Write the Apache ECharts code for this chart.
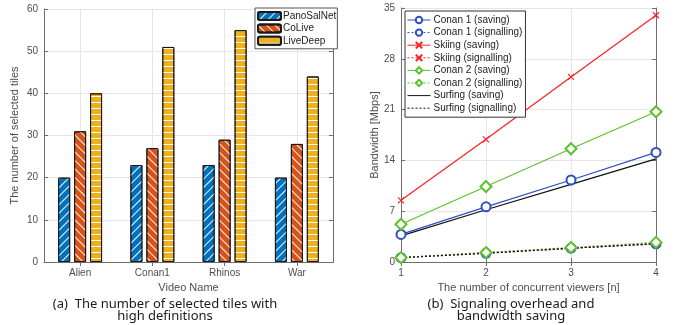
<!DOCTYPE html>
<html>
<head>
<meta charset="utf-8">
<script src="https://cdn.jsdelivr.net/npm/echarts@6/dist/echarts.min.js"></script>
<style>
  html, body { margin: 0; padding: 0; background: #fff; }
  #main { width: 676px; height: 325px; }
</style>
</head>
<body>
<div id="main"></div>
<script>
// (a) selected tiles
const videos = ['Alien', 'Conan1', 'Rhinos', 'War'];
const panoSalNet = [20, 23, 23, 20];
const coLive = [31, 27, 29, 28];
const liveDeep = [40, 51, 55, 44];

// (b) bandwidth
const viewers = [1, 2, 3, 4];
const conan1Saving = [3.8, 7.6, 11.3, 15.1];
const conan1Signal = [0.6, 1.2, 1.9, 2.5];
const skiingSaving = [8.5, 16.9, 25.5, 34.0];
const skiingSignal = [0.6, 1.3, 1.9, 2.6];
const conan2Saving = [5.2, 10.4, 15.6, 20.7];
const conan2Signal = [0.6, 1.3, 2.0, 2.7];
const surfingSaving = [3.6, 7.2, 10.7, 14.2];
const surfingSignal = [0.6, 1.2, 1.9, 2.5];

const font = "'Liberation Sans', Arial, sans-serif";
const axisCol = '#6e6e6e';
const labelCol = '#4d4d4d';
const gridCol = '#e6e6e6';

const xy = (ys) => viewers.map((v, i) => [v, ys[i]]);

function boxAxis(extra) {
    return Object.assign({
        axisLine: { show: true, lineStyle: { color: axisCol, width: 1 } },
        axisTick: { show: true, inside: true, length: 4, lineStyle: { color: axisCol } },
        axisLabel: { show: false },
        splitLine: { show: false }
    }, extra);
}

function barSeries(name, data, color, rotation) {
    return {
        name: name, type: 'bar', data: data,
        xAxisIndex: 0, yAxisIndex: 0,
        barWidth: 12, barGap: '33%',
        itemStyle: {
            color: color, borderColor: '#1a1a1a', borderWidth: 1,
            decal: {
                symbol: 'rect', symbolSize: 1,
                dashArrayX: [1, 0], dashArrayY: [1, 5],
                rotation: rotation, color: 'rgba(255,255,255,0.95)'
            }
        }
    };
}

function lineSeries(name, data, color, symbol, dotted, size) {
    const noMarker = symbol === 'none';
    return {
        name: name, type: 'line', data: xy(data),
        xAxisIndex: 2, yAxisIndex: 2,
        symbol: noMarker ? 'rect' : symbol, symbolSize: noMarker ? 1 : size,
        lineStyle: { color: color, width: 1.2, type: dotted ? [2, 2] : 'solid' },
        itemStyle: noMarker
            ? { color: 'transparent', borderColor: 'transparent', borderWidth: 0 }
            : { color: color, borderColor: color, borderWidth: 1.1 }
    };
}

const cross = 'path://M0,0L10,10M10,0L0,10';

const option = {
    animation: false,
    textStyle: { fontFamily: font },
    grid: [
        { left: 44, top: 9, width: 289, height: 253 },
        { left: 401, top: 8, width: 255, height: 254 }
    ],
    legend: [
        {
            data: ['PanoSalNet', 'CoLive', 'LiveDeep'],
            orient: 'vertical', left: 255, top: 8,
            itemWidth: 23, itemHeight: 8, itemGap: 2.4,
            padding: [3, 1, 3, 2],
            backgroundColor: '#fff', borderColor: '#555', borderWidth: 1,
            textStyle: { fontSize: 10, lineHeight: 8, color: '#222', fontFamily: font, padding: [0, 0, 0, -3] }
        },
        {
            data: ['Conan 1 (saving)', 'Conan 1 (signalling)', 'Skiing (saving)', 'Skiing (signalling)',
                   'Conan 2 (saving)', 'Conan 2 (signalling)', 'Surfing (saving)', 'Surfing (signalling)'],
            orient: 'vertical', left: 405, top: 11,
            itemWidth: 23, itemHeight: 8, itemGap: 2.6,
            padding: [4, 3, 4, 2],
            lineStyle: { width: 1 },
            backgroundColor: '#fff', borderColor: '#333', borderWidth: 1,
            textStyle: { fontSize: 10, lineHeight: 8, color: '#222', fontFamily: font, padding: [0, 0, 0, -2] }
        }
    ],
    xAxis: [
        {
            type: 'category', gridIndex: 0, data: videos,
            name: 'Video Name', nameLocation: 'middle', nameGap: 15,
            nameTextStyle: { color: labelCol, fontSize: 11 },
            axisLine: { lineStyle: { color: axisCol } },
            axisTick: { show: true, inside: true, length: 4, alignWithLabel: true, lineStyle: { color: axisCol } },
            axisLabel: { color: labelCol, fontSize: 10, margin: 6 },
            splitLine: { show: true, alignWithLabel: true, lineStyle: { color: gridCol } }
        },
        boxAxis({ type: 'category', gridIndex: 0, data: videos, position: 'top',
            axisTick: { show: true, inside: true, length: 4, alignWithLabel: true, lineStyle: { color: axisCol } } }),
        {
            type: 'value', gridIndex: 1, min: 1, max: 4, interval: 1,
            name: 'The number of concurrent viewers [n]', nameLocation: 'middle', nameGap: 13,
            nameTextStyle: { color: labelCol, fontSize: 11 },
            axisLine: { lineStyle: { color: axisCol } },
            axisTick: { show: true, inside: true, length: 4, lineStyle: { color: axisCol } },
            axisLabel: { color: labelCol, fontSize: 10, margin: 6 },
            splitLine: { show: true, lineStyle: { color: gridCol } }
        },
        boxAxis({ type: 'value', gridIndex: 1, min: 1, max: 4, interval: 1, position: 'top' })
    ],
    yAxis: [
        {
            type: 'value', gridIndex: 0, min: 0, max: 60, interval: 10,
            name: 'The number of selected tiles', nameLocation: 'middle', nameGap: 24,
            nameTextStyle: { color: labelCol, fontSize: 11 },
            axisLine: { show: true, lineStyle: { color: axisCol } },
            axisTick: { show: true, inside: true, length: 4, lineStyle: { color: axisCol } },
            axisLabel: { color: labelCol, fontSize: 10, margin: 6 },
            splitLine: { show: true, lineStyle: { color: gridCol } }
        },
        boxAxis({ type: 'value', gridIndex: 0, min: 0, max: 60, interval: 10, position: 'right' }),
        {
            type: 'value', gridIndex: 1, min: 0, max: 35, interval: 7,
            name: 'Bandwidth [Mbps]', nameLocation: 'middle', nameGap: 18,
            nameTextStyle: { color: labelCol, fontSize: 11 },
            axisLine: { show: true, lineStyle: { color: axisCol } },
            axisTick: { show: true, inside: true, length: 4, lineStyle: { color: axisCol } },
            axisLabel: { color: labelCol, fontSize: 10, margin: 6 },
            splitLine: { show: true, lineStyle: { color: gridCol } }
        },
        boxAxis({ type: 'value', gridIndex: 1, min: 0, max: 35, interval: 7, position: 'right' })
    ],
    series: [
        barSeries('PanoSalNet', panoSalNet, '#0072BD', -Math.PI / 4),
        barSeries('CoLive', coLive, '#D95319', Math.PI / 4),
        barSeries('LiveDeep', liveDeep, '#EDB120', 0),
        lineSeries('Conan 1 (saving)', conan1Saving, '#2f4fc4', 'emptyCircle', false, 9),
        lineSeries('Conan 1 (signalling)', conan1Signal, '#2f4fc4', 'emptyCircle', true, 9),
        lineSeries('Skiing (saving)', skiingSaving, '#ff1f1f', cross, false, 6),
        lineSeries('Skiing (signalling)', skiingSignal, '#ff1f1f', cross, true, 6),
        lineSeries('Conan 2 (saving)', conan2Saving, '#5cc22e', 'emptyDiamond', false, 11),
        lineSeries('Conan 2 (signalling)', conan2Signal, '#5cc22e', 'emptyDiamond', true, 11),
        lineSeries('Surfing (saving)', surfingSaving, '#111', 'none', false),
        lineSeries('Surfing (signalling)', surfingSignal, '#111', 'none', true)
    ],
    graphic: [
        {
            type: 'text', x: 165, y: 298,
            style: {
                text: '(a)  The number of selected tiles with\nhigh definitions',
                align: 'center', verticalAlign: 'top', fill: '#1a1a1a', fontSize: 13, lineHeight: 12,
                fontFamily: "'Noto Sans', sans-serif"
            }
        },
        {
            type: 'text', x: 511, y: 298,
            style: {
                text: '(b)  Signaling overhead and\nbandwidth saving',
                align: 'center', verticalAlign: 'top', fill: '#1a1a1a', fontSize: 13, lineHeight: 12,
                fontFamily: "'Noto Sans', sans-serif"
            }
        }
    ]
};

const chart = echarts.init(document.getElementById('main'));
chart.setOption(option);
</script>
</body>
</html>
